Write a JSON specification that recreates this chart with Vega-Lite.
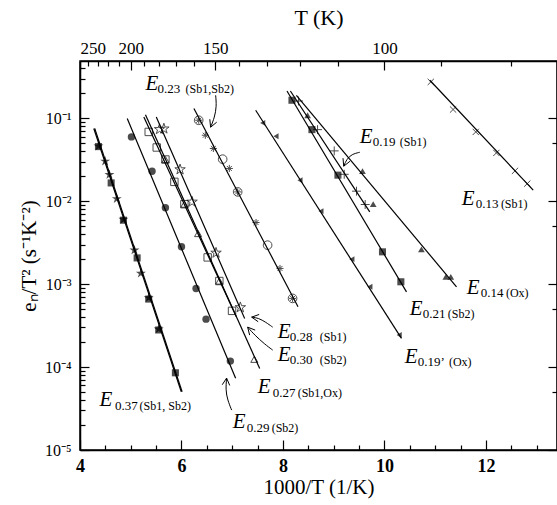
{
  "$schema": "https://vega.github.io/schema/vega-lite/v6.json",
  "width": 477,
  "height": 389,
  "autosize": "none",
  "padding": {"left": 80, "top": 61, "right": 0, "bottom": 55},
  "background": "white",
  "config": {
    "font": "Liberation Serif",
    "axis": {"labelFont": "Liberation Serif", "titleFont": "Liberation Serif", "domainColor": "black", "domainWidth": 1.5, "tickColor": "black", "tickWidth": 1.2, "labelColor": "black", "titleColor": "black", "grid": false, "labelOverlap": false, "titleFontWeight": "normal"},
    "view": {"stroke": "black", "strokeWidth": 1.5},
    "text": {"font": "Liberation Serif"}
  },
  "datasets": {
    "pts": [
      {"s": "E37a", "x": 4.364, "y": 0.046}, {"s": "E37a", "x": 4.496, "y": 0.0303}, {"s": "E37a", "x": 4.58, "y": 0.0209}, {"s": "E37a", "x": 4.725, "y": 0.0107}, {"s": "E37a", "x": 4.856, "y": 0.00603}, {"s": "E37a", "x": 5.073, "y": 0.00257}, {"s": "E37a", "x": 5.2, "y": 0.00135}, {"s": "E37a", "x": 5.354, "y": 0.000684}, {"s": "E37a", "x": 5.551, "y": 0.000287},
      {"s": "E37b", "x": 4.364, "y": 0.0455}, {"s": "E37b", "x": 4.614, "y": 0.0166}, {"s": "E37b", "x": 4.856, "y": 0.0059}, {"s": "E37b", "x": 5.126, "y": 0.00207}, {"s": "E37b", "x": 5.354, "y": 0.00066}, {"s": "E37b", "x": 5.551, "y": 0.00028}, {"s": "E37b", "x": 5.88, "y": 0.0000853},
      {"s": "E29", "x": 5.014, "y": 0.0596}, {"s": "E29", "x": 5.42, "y": 0.023}, {"s": "E29", "x": 5.683, "y": 0.00832}, {"s": "E29", "x": 6.0, "y": 0.00282}, {"s": "E29", "x": 6.287, "y": 0.000887}, {"s": "E29", "x": 6.484, "y": 0.000378}, {"s": "E29", "x": 6.963, "y": 0.000118},
      {"s": "E30", "x": 5.354, "y": 0.0684}, {"s": "E30", "x": 5.512, "y": 0.0444}, {"s": "E30", "x": 5.683, "y": 0.0318}, {"s": "E30", "x": 5.86, "y": 0.0171}, {"s": "E30", "x": 6.057, "y": 0.0092}, {"s": "E30", "x": 6.516, "y": 0.0021}, {"s": "E30", "x": 6.746, "y": 0.00109}, {"s": "E30", "x": 6.996, "y": 0.000476},
      {"s": "E27", "x": 5.683, "y": 0.0318}, {"s": "E27", "x": 6.057, "y": 0.0092}, {"s": "E27", "x": 6.327, "y": 0.00407}, {"s": "E27", "x": 6.746, "y": 0.00109}, {"s": "E27", "x": 7.435, "y": 0.000124},
      {"s": "E28", "x": 5.567, "y": 0.0736}, {"s": "E28", "x": 5.653, "y": 0.0748}, {"s": "E28", "x": 5.972, "y": 0.0241}, {"s": "E28", "x": 6.209, "y": 0.00982}, {"s": "E28", "x": 6.681, "y": 0.00238}, {"s": "E28", "x": 7.16, "y": 0.000524},
      {"s": "E23a", "x": 6.339, "y": 0.0946}, {"s": "E23a", "x": 6.47, "y": 0.0624}, {"s": "E23a", "x": 6.628, "y": 0.0432}, {"s": "E23a", "x": 6.943, "y": 0.0248}, {"s": "E23a", "x": 7.107, "y": 0.01294}, {"s": "E23a", "x": 7.469, "y": 0.00553}, {"s": "E23a", "x": 7.941, "y": 0.001545}, {"s": "E23a", "x": 8.189, "y": 0.000673},
      {"s": "E23b", "x": 6.339, "y": 0.0946}, {"s": "E23b", "x": 6.811, "y": 0.0321}, {"s": "E23b", "x": 7.107, "y": 0.01294}, {"s": "E23b", "x": 7.697, "y": 0.00295}, {"s": "E23b", "x": 8.189, "y": 0.000673},
      {"s": "E19p", "x": 7.6, "y": 0.0879}, {"s": "E19p", "x": 7.862, "y": 0.0607}, {"s": "E19p", "x": 8.335, "y": 0.0179}, {"s": "E19p", "x": 8.748, "y": 0.00759}, {"s": "E19p", "x": 9.358, "y": 0.002}, {"s": "E19p", "x": 9.713, "y": 0.000929}, {"s": "E19p", "x": 10.29, "y": 0.000243},
      {"s": "E21", "x": 8.177, "y": 0.1648}, {"s": "E21", "x": 8.571, "y": 0.0729}, {"s": "E21", "x": 9.083, "y": 0.0206}, {"s": "E21", "x": 9.961, "y": 0.00245}, {"s": "E21", "x": 10.323, "y": 0.001067},
      {"s": "E19", "x": 8.307, "y": 0.1614}, {"s": "E19", "x": 8.681, "y": 0.0729}, {"s": "E19", "x": 9.01, "y": 0.0404}, {"s": "E19", "x": 9.207, "y": 0.0211}, {"s": "E19", "x": 9.449, "y": 0.0132}, {"s": "E19", "x": 9.62, "y": 0.00912},
      {"s": "E14", "x": 8.485, "y": 0.1086}, {"s": "E14", "x": 9.567, "y": 0.023}, {"s": "E14", "x": 9.778, "y": 0.0092}, {"s": "E14", "x": 10.728, "y": 0.00262}, {"s": "E14", "x": 11.209, "y": 0.001225}, {"s": "E14", "x": 11.307, "y": 0.001225},
      {"s": "E13", "x": 10.913, "y": 0.2742}, {"s": "E13", "x": 11.352, "y": 0.1274}, {"s": "E13", "x": 11.799, "y": 0.0684}, {"s": "E13", "x": 12.205, "y": 0.0382}, {"s": "E13", "x": 12.573, "y": 0.0232}, {"s": "E13", "x": 12.815, "y": 0.0163}
    ],
    "fits": [
      {"s": "L37a", "x": 4.272, "y": 0.0752}, {"s": "L37a", "x": 5.996, "y": 0.0000503},
      {"s": "L37b", "x": 4.29, "y": 0.0752}, {"s": "L37b", "x": 6.012, "y": 0.0000503},
      {"s": "L29", "x": 4.931, "y": 0.0991}, {"s": "L29", "x": 7.067, "y": 0.0000731},
      {"s": "L30", "x": 5.258, "y": 0.1038}, {"s": "L30", "x": 7.081, "y": 0.000404},
      {"s": "L27", "x": 5.29, "y": 0.11}, {"s": "L27", "x": 7.541, "y": 0.0000964},
      {"s": "L28", "x": 5.503, "y": 0.1038}, {"s": "L28", "x": 7.245, "y": 0.000386},
      {"s": "L23", "x": 6.245, "y": 0.1309}, {"s": "L23", "x": 8.296, "y": 0.000533},
      {"s": "L19p", "x": 7.462, "y": 0.1247}, {"s": "L19p", "x": 10.335, "y": 0.000222},
      {"s": "L21", "x": 8.079, "y": 0.2133}, {"s": "L21", "x": 10.434, "y": 0.000807},
      {"s": "L19", "x": 8.146, "y": 0.2133}, {"s": "L19", "x": 9.71, "y": 0.00743},
      {"s": "L14", "x": 8.264, "y": 0.1892}, {"s": "L14", "x": 11.42, "y": 0.000927},
      {"s": "L13", "x": 10.894, "y": 0.2871}, {"s": "L13", "x": 12.931, "y": 0.01358}
    ],
    "shafts": [
      {"id": "a1", "o": 1, "x": 6.673, "y": 0.189}, {"id": "a1", "o": 2, "x": 6.692, "y": 0.1396}, {"id": "a1", "o": 3, "x": 6.653, "y": 0.1028}, {"id": "a1", "o": 4, "x": 6.574, "y": 0.078},
      {"id": "a2", "o": 1, "x": 9.513, "y": 0.0389}, {"id": "a2", "o": 2, "x": 9.355, "y": 0.0368}, {"id": "a2", "o": 3, "x": 9.256, "y": 0.0321}, {"id": "a2", "o": 4, "x": 9.197, "y": 0.0264},
      {"id": "a3", "o": 1, "x": 7.797, "y": 0.000303}, {"id": "a3", "o": 2, "x": 7.659, "y": 0.000348}, {"id": "a3", "o": 3, "x": 7.521, "y": 0.000389}, {"id": "a3", "o": 4, "x": 7.383, "y": 0.0004},
      {"id": "a4", "o": 1, "x": 7.797, "y": 0.0001603}, {"id": "a4", "o": 2, "x": 7.639, "y": 0.000189}, {"id": "a4", "o": 3, "x": 7.442, "y": 0.000243}, {"id": "a4", "o": 4, "x": 7.304, "y": 0.000303},
      {"id": "a5", "o": 1, "x": 6.988, "y": 0.0000303}, {"id": "a5", "o": 2, "x": 6.909, "y": 0.00004}, {"id": "a5", "o": 3, "x": 6.87, "y": 0.0000528}, {"id": "a5", "o": 4, "x": 6.889, "y": 0.0000736}
    ],
    "heads": [
      {"id": "h1", "o": 1, "x": 6.558, "y": 0.0973}, {"id": "h1", "o": 2, "x": 6.574, "y": 0.078}, {"id": "h1", "o": 3, "x": 6.694, "y": 0.0897},
      {"id": "h2", "o": 1, "x": 9.183, "y": 0.033}, {"id": "h2", "o": 2, "x": 9.197, "y": 0.0264}, {"id": "h2", "o": 3, "x": 9.32, "y": 0.0303},
      {"id": "h3", "o": 1, "x": 7.531, "y": 0.000431}, {"id": "h3", "o": 2, "x": 7.383, "y": 0.0004}, {"id": "h3", "o": 3, "x": 7.511, "y": 0.000352},
      {"id": "h4", "o": 1, "x": 7.343, "y": 0.000243}, {"id": "h4", "o": 2, "x": 7.304, "y": 0.000303}, {"id": "h4", "o": 3, "x": 7.452, "y": 0.000279},
      {"id": "h5", "o": 1, "x": 6.951, "y": 0.00006}, {"id": "h5", "o": 2, "x": 6.889, "y": 0.0000736}, {"id": "h5", "o": 3, "x": 6.803, "y": 0.0000612}
    ],
    "labE": [
      {"x": 5.292, "y": 0.2173, "t": "E"}, {"x": 4.385, "y": 0.0000339, "t": "E"}, {"x": 7.008, "y": 0.0000184, "t": "E"}, {"x": 7.501, "y": 0.0000486, "t": "E"}, {"x": 7.895, "y": 0.000223, "t": "E"}, {"x": 7.895, "y": 0.000118, "t": "E"}, {"x": 10.499, "y": 0.000424, "t": "E"}, {"x": 10.4, "y": 0.0001117, "t": "E"}, {"x": 11.623, "y": 0.000759, "t": "E"}, {"x": 11.525, "y": 0.00895, "t": "E"}, {"x": 9.513, "y": 0.05, "t": "E"}
    ],
    "labN": [
      {"x": 5.529, "y": 0.2, "t": "0.23"}, {"x": 4.69, "y": 0.0000303, "t": "0.37"}, {"x": 7.284, "y": 0.0000165, "t": "0.29"}, {"x": 7.797, "y": 0.0000436, "t": "0.27"}, {"x": 8.132, "y": 0.000206, "t": "0.28"}, {"x": 8.132, "y": 0.0001087, "t": "0.30"}, {"x": 10.755, "y": 0.000389, "t": "0.21"}, {"x": 10.657, "y": 0.0001028, "t": "0.19’"}, {"x": 11.899, "y": 0.000697, "t": "0.14"}, {"x": 11.801, "y": 0.00824, "t": "0.13"}, {"x": 9.769, "y": 0.046, "t": "0.19"}
    ],
    "labP": [
      {"x": 6.081, "y": 0.2, "t": "(Sb1,Sb2)"}, {"x": 5.174, "y": 0.0000303, "t": "(Sb1, Sb2)"}, {"x": 7.777, "y": 0.0000165, "t": "(Sb2)"}, {"x": 8.29, "y": 0.0000436, "t": "(Sb1,Ox)"}, {"x": 8.724, "y": 0.000206, "t": "(Sb1)"}, {"x": 8.724, "y": 0.0001087, "t": "(Sb2)"}, {"x": 11.249, "y": 0.000389, "t": "(Sb2)"}, {"x": 11.27, "y": 0.0001028, "t": "(Ox)"}, {"x": 12.393, "y": 0.000697, "t": "(Ox)"}, {"x": 12.294, "y": 0.00824, "t": "(Sb1)"}, {"x": 10.302, "y": 0.046, "t": "(Sb1)"}
    ]
  },
  "resolve": {"axis": {"x": "independent", "y": "independent"}},
  "layer": [
    {
      "data": {"name": "fits"},
      "mark": {"type": "line", "color": "black", "strokeWidth": 1.2},
      "encoding": {
        "x": {"field": "x", "type": "quantitative", "scale": {"domain": [4, 13.4], "nice": false},
          "axis": {"orient": "bottom", "values": [4, 4.5, 5, 5.5, 6, 6.5, 7, 7.5, 8, 8.5, 9, 9.5, 10, 10.5, 11, 11.5, 12, 12.5, 13],
            "labelExpr": "datum.value % 2 == 0 ? '' + datum.value : ''",
            "tickSize": {"condition": {"test": "datum.value % 2 == 0", "value": -10}, "value": -5},
            "labelPadding": 17, "labelFontSize": 18, "labelFontWeight": "bold", "labelFlush": false,
            "title": "1000/T (1/K)", "titleFontSize": 21, "titlePadding": -4}},
        "y": {"field": "y", "type": "quantitative", "scale": {"type": "log", "domain": [0.00001, 0.49], "nice": false},
          "axis": {"orient": "left",
            "values": [0.00001, 0.00002, 0.00003, 0.00004, 0.00005, 0.00006, 0.00007, 0.00008, 0.00009, 0.0001, 0.0002, 0.0003, 0.0004, 0.0005, 0.0006, 0.0007, 0.0008, 0.0009, 0.001, 0.002, 0.003, 0.004, 0.005, 0.006, 0.007, 0.008, 0.009, 0.01, 0.02, 0.03, 0.04, 0.05, 0.06, 0.07, 0.08, 0.09, 0.1, 0.2, 0.3, 0.4],
            "labelExpr": "datum.value == 0.1 ? '10⁻¹' : datum.value == 0.01 ? '10⁻²' : datum.value == 0.001 ? '10⁻³' : datum.value == 0.0001 ? '10⁻⁴' : datum.value == 0.00001 ? '10⁻⁵' : ''",
            "tickSize": {"condition": {"test": "indexof([0.1, 0.01, 0.001, 0.0001, 0.00001], datum.value) >= 0", "value": -9}, "value": -5},
            "labelPadding": 18, "labelFontSize": 16, "labelFlush": false,
            "title": "eₙ/T² (s⁻¹K⁻²)", "titleFontSize": 21, "titlePadding": 5}},
        "detail": {"field": "s"}
      }
    },
    {
      "data": {"name": "shafts"},
      "mark": {"type": "line", "color": "black", "strokeWidth": 1, "interpolate": "basis"},
      "encoding": {
        "x": {"field": "x", "type": "quantitative", "axis": null},
        "y": {"field": "y", "type": "quantitative", "scale": {"type": "log"}, "axis": null},
        "detail": {"field": "id"},
        "order": {"field": "o"}
      }
    },
    {
      "data": {"name": "heads"},
      "mark": {"type": "line", "color": "black", "strokeWidth": 1},
      "encoding": {
        "x": {"field": "x", "type": "quantitative", "axis": null},
        "y": {"field": "y", "type": "quantitative", "scale": {"type": "log"}, "axis": null},
        "detail": {"field": "id"},
        "order": {"field": "o"}
      }
    },
    {
      "data": {"name": "pts"},
      "transform": [{"filter": {"field": "s", "oneOf": ["E23b"]}}],
      "mark": {"type": "point", "shape": "circle", "filled": false, "color": "black", "size": 75, "strokeWidth": 1},
      "encoding": {"x": {"field": "x", "type": "quantitative", "axis": null}, "y": {"field": "y", "type": "quantitative", "scale": {"type": "log"}, "axis": null}}
    },
    {
      "data": {"name": "pts"},
      "transform": [{"filter": {"field": "s", "oneOf": ["E23a"]}}],
      "mark": {"type": "point", "shape": "M-1,0L1,0M0,-1L0,1M-0.7,-0.7L0.7,0.7M-0.7,0.7L0.7,-0.7", "filled": false, "color": "black", "size": 50, "strokeWidth": 1},
      "encoding": {"x": {"field": "x", "type": "quantitative", "axis": null}, "y": {"field": "y", "type": "quantitative", "scale": {"type": "log"}, "axis": null}}
    },
    {
      "data": {"name": "pts"},
      "transform": [{"filter": {"field": "s", "oneOf": ["E37a"]}}],
      "mark": {"type": "point", "shape": "M0,-1L0.225,-0.309L0.951,-0.309L0.363,0.118L0.588,0.809L0,0.382L-0.588,0.809L-0.363,0.118L-0.951,-0.309L-0.225,-0.309Z", "filled": true, "color": "black", "size": 110},
      "encoding": {"x": {"field": "x", "type": "quantitative", "axis": null}, "y": {"field": "y", "type": "quantitative", "scale": {"type": "log"}, "axis": null}}
    },
    {
      "data": {"name": "pts"},
      "transform": [{"filter": {"field": "s", "oneOf": ["E37b", "E21"]}}],
      "mark": {"type": "point", "shape": "square", "filled": true, "color": "black", "size": 50},
      "encoding": {"x": {"field": "x", "type": "quantitative", "axis": null}, "y": {"field": "y", "type": "quantitative", "scale": {"type": "log"}, "axis": null}}
    },
    {
      "data": {"name": "pts"},
      "transform": [{"filter": {"field": "s", "oneOf": ["E29"]}}],
      "mark": {"type": "point", "shape": "circle", "filled": true, "color": "black", "size": 55},
      "encoding": {"x": {"field": "x", "type": "quantitative", "axis": null}, "y": {"field": "y", "type": "quantitative", "scale": {"type": "log"}, "axis": null}}
    },
    {
      "data": {"name": "pts"},
      "transform": [{"filter": {"field": "s", "oneOf": ["E30"]}}],
      "mark": {"type": "point", "shape": "square", "filled": false, "color": "black", "size": 55, "strokeWidth": 1},
      "encoding": {"x": {"field": "x", "type": "quantitative", "axis": null}, "y": {"field": "y", "type": "quantitative", "scale": {"type": "log"}, "axis": null}}
    },
    {
      "data": {"name": "pts"},
      "transform": [{"filter": {"field": "s", "oneOf": ["E27"]}}],
      "mark": {"type": "point", "shape": "triangle-up", "filled": false, "color": "black", "size": 50, "strokeWidth": 1},
      "encoding": {"x": {"field": "x", "type": "quantitative", "axis": null}, "y": {"field": "y", "type": "quantitative", "scale": {"type": "log"}, "axis": null}}
    },
    {
      "data": {"name": "pts"},
      "transform": [{"filter": {"field": "s", "oneOf": ["E28"]}}],
      "mark": {"type": "point", "shape": "M0,-1L0.225,-0.309L0.951,-0.309L0.363,0.118L0.588,0.809L0,0.382L-0.588,0.809L-0.363,0.118L-0.951,-0.309L-0.225,-0.309Z", "filled": false, "color": "black", "size": 120, "strokeWidth": 1},
      "encoding": {"x": {"field": "x", "type": "quantitative", "axis": null}, "y": {"field": "y", "type": "quantitative", "scale": {"type": "log"}, "axis": null}}
    },
    {
      "data": {"name": "pts"},
      "transform": [{"filter": {"field": "s", "oneOf": ["E19p"]}}],
      "mark": {"type": "point", "shape": "triangle-left", "filled": true, "color": "black", "size": 35},
      "encoding": {"x": {"field": "x", "type": "quantitative", "axis": null}, "y": {"field": "y", "type": "quantitative", "scale": {"type": "log"}, "axis": null}}
    },
    {
      "data": {"name": "pts"},
      "transform": [{"filter": {"field": "s", "oneOf": ["E19"]}}],
      "mark": {"type": "point", "shape": "M-1,0L1,0M0,-1L0,1", "filled": false, "color": "black", "size": 80, "strokeWidth": 1},
      "encoding": {"x": {"field": "x", "type": "quantitative", "axis": null}, "y": {"field": "y", "type": "quantitative", "scale": {"type": "log"}, "axis": null}}
    },
    {
      "data": {"name": "pts"},
      "transform": [{"filter": {"field": "s", "oneOf": ["E14"]}}],
      "mark": {"type": "point", "shape": "triangle-up", "filled": true, "color": "black", "size": 45},
      "encoding": {"x": {"field": "x", "type": "quantitative", "axis": null}, "y": {"field": "y", "type": "quantitative", "scale": {"type": "log"}, "axis": null}}
    },
    {
      "data": {"name": "pts"},
      "transform": [{"filter": {"field": "s", "oneOf": ["E13"]}}],
      "mark": {"type": "point", "shape": "M-0.7,-0.7L0.7,0.7M-0.7,0.7L0.7,-0.7", "filled": false, "color": "black", "size": 80, "strokeWidth": 1},
      "encoding": {"x": {"field": "x", "type": "quantitative", "axis": null}, "y": {"field": "y", "type": "quantitative", "scale": {"type": "log"}, "axis": null}}
    },
    {
      "data": {"name": "labE"},
      "mark": {"type": "text", "font": "Liberation Serif", "fontStyle": "italic", "fontSize": 21, "align": "left", "baseline": "alphabetic", "color": "black"},
      "encoding": {"x": {"field": "x", "type": "quantitative", "axis": null}, "y": {"field": "y", "type": "quantitative", "scale": {"type": "log"}, "axis": null}, "text": {"field": "t"}}
    },
    {
      "data": {"name": "labN"},
      "mark": {"type": "text", "font": "Liberation Serif", "fontSize": 13, "align": "left", "baseline": "alphabetic", "color": "black"},
      "encoding": {"x": {"field": "x", "type": "quantitative", "axis": null}, "y": {"field": "y", "type": "quantitative", "scale": {"type": "log"}, "axis": null}, "text": {"field": "t"}}
    },
    {
      "data": {"name": "labP"},
      "mark": {"type": "text", "font": "Liberation Serif", "fontSize": 12, "align": "left", "baseline": "alphabetic", "color": "black"},
      "encoding": {"x": {"field": "x", "type": "quantitative", "axis": null}, "y": {"field": "y", "type": "quantitative", "scale": {"type": "log"}, "axis": null}, "text": {"field": "t"}}
    },
    {
      "data": {"name": "fits"},
      "mark": {"type": "point", "opacity": 0},
      "encoding": {
        "x": {"field": "x", "type": "quantitative",
          "axis": {"orient": "top", "values": [4, 4.16667, 4.34783, 4.54545, 4.7619, 5, 5.26316, 5.55556, 5.88235, 6.25, 6.66667, 7.14286, 7.69231, 8.33333, 9.09091, 10, 11.1111, 12.5],
            "labelExpr": "indexof([250, 200, 150, 100], round(1000 / datum.value)) >= 0 ? '' + round(1000 / datum.value) : ''",
            "tickSize": {"condition": {"test": "indexof([250, 200, 150, 100], round(1000 / datum.value)) >= 0", "value": -9}, "value": -5},
            "labelPadding": 13, "labelFontSize": 17, "labelFlush": true,
            "title": "T (K)", "titleFontSize": 22, "titlePadding": 6}},
        "y": {"field": "y", "type": "quantitative", "scale": {"type": "log"},
          "axis": {"orient": "right", "values": [0.00001, 0.00005, 0.0001, 0.0005, 0.001, 0.005, 0.01, 0.05, 0.1],
            "labels": false, "title": null,
            "tickSize": {"condition": {"test": "indexof([0.1, 0.01, 0.001, 0.0001, 0.00001], datum.value) >= 0", "value": -9}, "value": -5}}}
      }
    }
  ]
}
